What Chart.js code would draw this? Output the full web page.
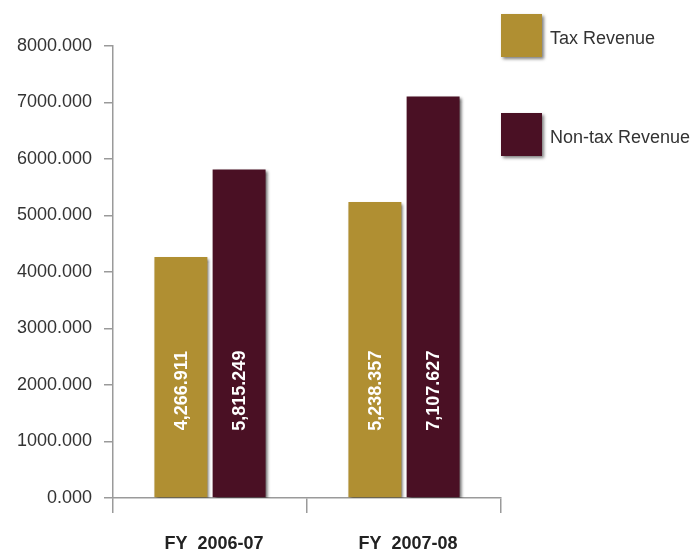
<!DOCTYPE html>
<html>
<head>
<meta charset="utf-8">
<script src="https://cdn.jsdelivr.net/npm/chart.js@4"></script>
<style>
  html, body { margin: 0; padding: 0; background: #fff; }
  #wrap { width: 697px; height: 553px; }
</style>
</head>
<body>
<div id="wrap"><canvas id="chart"></canvas></div>
<script>
// donnees
const categories = ['FY  2006-07', 'FY  2007-08'];
const taxRevenue = [4266.911, 5238.357];
const nonTaxRevenue = [5815.249, 7107.627];
const yTicks = [0, 1000, 2000, 3000, 4000, 5000, 6000, 7000, 8000];
const labelAnchor = 1900; // hauteur ou sont centres les chiffres dans les barres

const gold = '#B08F32';
const maroon = '#4A1024';

// ombre portee sous les barres
const shadowPlugin = {
  id: 'shadow',
  beforeDatasetsDraw(chart) {
    const ctx = chart.ctx;
    ctx.save();
    ctx.shadowColor = 'rgba(0,0,0,0.6)';
    ctx.shadowBlur = 3;
    ctx.shadowOffsetX = 2;
    ctx.shadowOffsetY = 2;
  },
  afterDatasetsDraw(chart) {
    chart.ctx.restore();
  }
};

// chiffres verticaux en blanc dans les barres
const valueLabels = {
  id: 'valueLabels',
  afterDatasetsDraw(chart) {
    const ctx = chart.ctx;
    const y = chart.scales.y.getPixelForValue(labelAnchor);
    ctx.save();
    ctx.fillStyle = '#fff';
    ctx.font = 'bold 18px "Liberation Sans", Arial, sans-serif';
    ctx.textAlign = 'center';
    ctx.textBaseline = 'middle';
    chart.data.datasets.forEach((ds, i) => {
      chart.getDatasetMeta(i).data.forEach((bar, j) => {
        const txt = ds.data[j].toLocaleString('en-US', { minimumFractionDigits: 3, maximumFractionDigits: 3 });
        ctx.save();
        ctx.translate(bar.x + 1, y);
        ctx.rotate(-Math.PI / 2);
        ctx.fillText(txt, 0, 0);
        ctx.restore();
      });
    });
    ctx.restore();
  }
};

// legende a droite avec gros carres
const sideLegend = {
  id: 'sideLegend',
  afterDraw(chart) {
    const ctx = chart.ctx;
    ctx.save();
    chart.data.datasets.forEach((ds, i) => {
      const top = 14 + i * 99;
      ctx.save();
      ctx.shadowColor = 'rgba(0,0,0,0.5)';
      ctx.shadowBlur = 3;
      ctx.shadowOffsetX = 2;
      ctx.shadowOffsetY = 2;
      ctx.fillStyle = ds.backgroundColor;
      ctx.fillRect(501, top, 41, 43);
      ctx.restore();
      ctx.fillStyle = '#333';
      ctx.font = '18px "Liberation Sans", Arial, sans-serif';
      ctx.textBaseline = 'middle';
      ctx.fillText(ds.label, 550, top + 25);
    });
    ctx.restore();
  }
};

new Chart(document.getElementById('chart'), {
  type: 'bar',
  data: {
    labels: categories,
    datasets: [
      { label: 'Tax Revenue', data: taxRevenue, backgroundColor: gold },
      { label: 'Non-tax Revenue', data: nonTaxRevenue, backgroundColor: maroon }
    ]
  },
  options: {
    responsive: true,
    maintainAspectRatio: false,
    animation: false,
    categoryPercentage: 0.6,
    barPercentage: 0.91,
    layout: { padding: { top: 46, right: 196, left: 16, bottom: 0 } },
    plugins: {
      legend: { display: false },
      tooltip: { enabled: false }
    },
    scales: {
      x: {
        afterFit(scale) { scale.height = 55; },
        grid: {
          offset: true,
          drawOnChartArea: false,
          color: '#9a9a9a',
          lineWidth: 1.5,
          tickLength: 15
        },
        border: { color: '#9a9a9a', width: 1.5 },
        ticks: {
          color: '#222',
          padding: 20,
          labelOffset: 4,
          font: { family: '"Liberation Sans", Arial, sans-serif', size: 18, weight: 'bold' }
        }
      },
      y: {
        min: 0,
        max: 8000,
        afterBuildTicks(scale) {
          scale.ticks = yTicks.map(v => ({ value: v }));
        },
        afterFit(scale) { scale.width = 97; },
        grid: {
          drawOnChartArea: false,
          color: '#9a9a9a',
          lineWidth: 1.5,
          tickLength: 9
        },
        border: { color: '#9a9a9a', width: 1.5 },
        ticks: {
          color: '#333',
          padding: 12,
          font: { family: '"Liberation Sans", Arial, sans-serif', size: 18 },
          callback: v => Number(v).toFixed(3)
        }
      }
    }
  },
  plugins: [shadowPlugin, valueLabels, sideLegend]
});
</script>
</body>
</html>
